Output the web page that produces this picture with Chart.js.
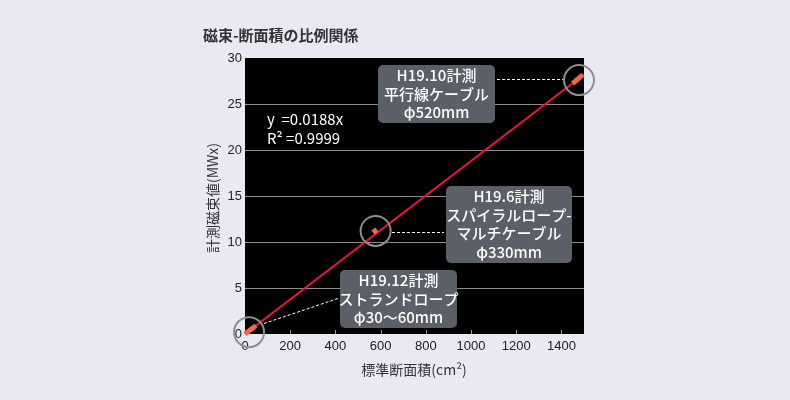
<!DOCTYPE html>
<html lang="ja">
<head>
<meta charset="utf-8">
<title>磁束-断面積の比例関係</title>
<script src="https://cdn.jsdelivr.net/npm/chart.js@4.4.1/dist/chart.umd.min.js"></script>
<style>
    html, body { margin: 0; padding: 0; background: #e9e9f3; }
    #wrap { position: relative; width: 790px; height: 400px; }
</style>
</head>
<body>
<div id="wrap"><canvas id="fluxChart" width="790" height="400"></canvas></div>
<script>
// ---- data ----
const xTicks = [0, 200, 400, 600, 800, 1000, 1200, 1400];
const yTicks = [0, 5, 10, 15, 20, 25, 30];

// regression line y = 0.0188x
const fitX = [0, 1500];
const fitY = [0, 28.2];

// measured points (area cm2, flux MWx)
const strandX = [8, 18, 28, 40];
const strandY = [0.15, 0.34, 0.53, 0.75];
const spiralX = [575];
const spiralY = [11.2];
const parallelX = [1458, 1472, 1486];
const parallelY = [27.4, 27.7, 28.0];

// circle centres around each group
const ringX = [18, 578, 1478];
const ringY = [0.2, 11.2, 27.6];

const equationLines = ['y  =0.0188x', 'R² =0.9999'];

const CJK = '"Noto Sans CJK JP", "Noto Sans", sans-serif';
const LAT = '"Liberation Sans", Arial, sans-serif';

function toPoints(xs, ys) {
    return xs.map((x, i) => ({ x: x, y: ys[i] }));
}

// callout boxes (pixel layout)
const callouts = [
    { lines: ['H19.10計測', '平行線ケーブル', 'φ520mm'], box: [378, 65, 117, 58],
      leader: [[497, 79], [563, 79]] },
    { lines: ['H19.6計測', 'スパイラルロープ-', 'マルチケーブル', 'φ330mm'], box: [446, 186, 126, 77],
      leader: [[392, 232], [444, 232]] },
    { lines: ['H19.12計測', 'ストランドロープ', 'φ30〜60mm'], box: [340, 270, 117, 58],
      leader: [[264, 323], [338, 298]] }
];

function roundRect(ctx, x, y, w, h, r) {
    ctx.beginPath();
    ctx.moveTo(x + r, y);
    ctx.arcTo(x + w, y, x + w, y + h, r);
    ctx.arcTo(x + w, y + h, x, y + h, r);
    ctx.arcTo(x, y + h, x, y, r);
    ctx.arcTo(x, y, x + w, y, r);
    ctx.closePath();
}

const decorPlugin = {
    id: 'decor',
    beforeDraw(chart) {
        const ctx = chart.ctx;
        const a = chart.chartArea;
        ctx.save();
        ctx.fillStyle = '#e9e9f3';
        ctx.fillRect(0, 0, chart.width, chart.height);
        ctx.fillStyle = '#000000';
        ctx.fillRect(a.left, a.top, a.right - a.left, a.bottom - a.top);
        ctx.restore();
    },
    beforeDatasetsDraw(chart) {
        const ctx = chart.ctx;
        const a = chart.chartArea;
        const xs = chart.scales.x;
        ctx.save();
        // small inward ticks on x axis
        ctx.strokeStyle = '#9a9a9a';
        ctx.lineWidth = 1;
        xTicks.slice(1).forEach(v => {
            const px = Math.round(xs.getPixelForValue(v)) + 0.5;
            ctx.beginPath();
            ctx.moveTo(px, a.bottom);
            ctx.lineTo(px, a.bottom - 4);
            ctx.stroke();
        });
        // leader lines
        ctx.strokeStyle = '#ffffff';
        ctx.setLineDash([3, 2]);
        callouts.forEach(c => {
            ctx.beginPath();
            ctx.moveTo(c.leader[0][0], c.leader[0][1] + 0.5);
            ctx.lineTo(c.leader[1][0], c.leader[1][1] + 0.5);
            ctx.stroke();
        });
        ctx.restore();
    },
    afterDraw(chart) {
        const ctx = chart.ctx;
        ctx.save();

        // callout boxes
        callouts.forEach(c => {
            const [bx, by, bw, bh] = c.box;
            ctx.fillStyle = '#5b5f67';
            roundRect(ctx, bx, by, bw, bh, 5);
            ctx.fill();
            ctx.fillStyle = '#ffffff';
            ctx.font = '500 15px ' + CJK;
            ctx.textAlign = 'center';
            ctx.textBaseline = 'middle';
            const lh = 18.5;
            const start = by + bh / 2 - (c.lines.length - 1) * lh / 2;
            c.lines.forEach((t, i) => ctx.fillText(t, bx + bw / 2, start + i * lh));
        });

        // regression text
        ctx.fillStyle = '#ffffff';
        ctx.font = '15px ' + CJK;
        ctx.textAlign = 'left';
        ctx.textBaseline = 'middle';
        ctx.fillText(equationLines[0], 267, 119);
        ctx.fillText(equationLines[1], 267, 138);

        // title
        ctx.fillStyle = '#333333';
        ctx.font = 'bold 15px ' + CJK;
        ctx.textBaseline = 'middle';
        ctx.fillText('磁束-断面積の比例関係', 203, 35);

        // axis titles
        ctx.font = '14px ' + CJK;
        ctx.textAlign = 'center';
        ctx.fillText('標準断面積(cm²)', 414, 370);
        ctx.save();
        ctx.translate(213, 198);
        ctx.rotate(-Math.PI / 2);
        ctx.fillText('計測磁束値(MWx)', 0, 0);
        ctx.restore();

        ctx.restore();
    }
};

const ctx = document.getElementById('fluxChart');
new Chart(ctx, {
    type: 'scatter',
    data: {
        datasets: [
            {
                label: 'measured',
                data: toPoints(strandX, strandY)
                    .concat(toPoints(spiralX, spiralY))
                    .concat(toPoints(parallelX, parallelY)),
                pointStyle: 'rect',
                rotation: 52,
                pointRadius: 3.5,
                backgroundColor: '#f2684a',
                borderWidth: 0,
                order: 0,
                clip: false
            },
            {
                label: 'rings',
                data: toPoints(ringX, ringY),
                pointRadius: 15,
                backgroundColor: 'rgba(0,0,0,0)',
                borderColor: '#8f8f8f',
                borderWidth: 2,
                order: 1,
                clip: false
            },
            {
                type: 'line',
                label: 'fit',
                data: toPoints(fitX, fitY),
                borderColor: '#e8173c',
                borderWidth: 2,
                pointRadius: 0,
                order: 2
            }
        ]
    },
    options: {
        responsive: false,
        animation: false,
        layout: { padding: { left: 0, right: 206, top: 58, bottom: 0 } },
        plugins: {
            legend: { display: false },
            tooltip: { enabled: false }
        },
        scales: {
            x: {
                type: 'linear',
                min: 0,
                max: 1500,
                afterFit: s => { s.height = 66; },
                afterBuildTicks: s => { s.ticks = xTicks.map(v => ({ value: v })); },
                border: { display: false },
                grid: { display: false, drawTicks: false },
                ticks: {
                    padding: 5,
                    color: '#222222',
                    font: { family: LAT, size: 13 },
                    callback: v => String(v)
                }
            },
            y: {
                type: 'linear',
                min: 0,
                max: 30,
                afterFit: s => { s.width = 245; },
                afterBuildTicks: s => { s.ticks = yTicks.map(v => ({ value: v })); },
                border: { display: false },
                grid: {
                    drawTicks: false,
                    color: c => (c.tick.value === 0 || c.tick.value === 30) ? 'rgba(0,0,0,0)' : '#8c8c8c'
                },
                ticks: {
                    padding: 3,
                    color: '#222222',
                    font: { family: LAT, size: 13 },
                    callback: v => String(v)
                }
            }
        }
    },
    plugins: [decorPlugin]
});
</script>
</body>
</html>
